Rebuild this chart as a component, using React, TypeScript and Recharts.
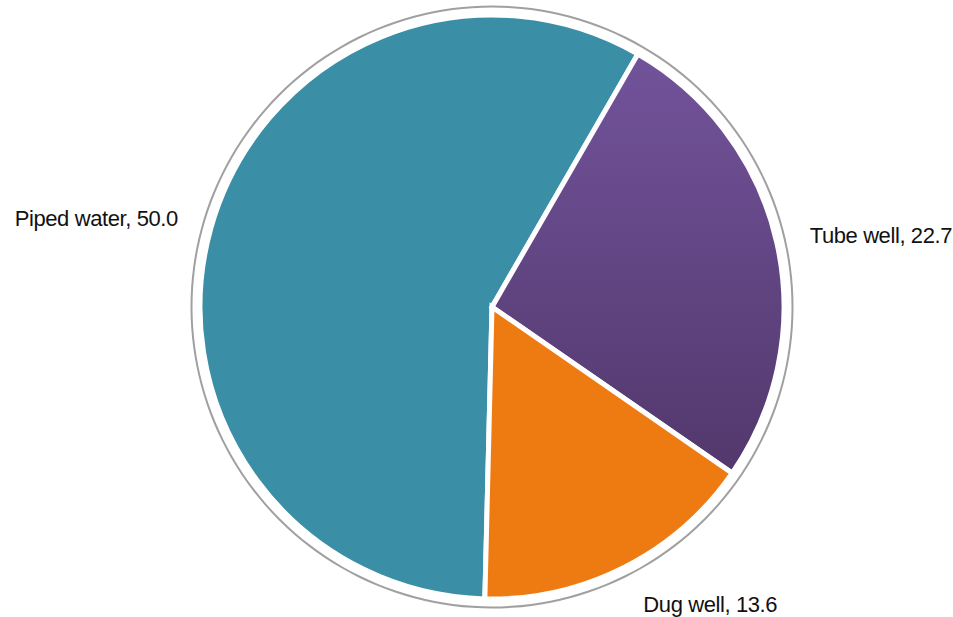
import React from "react";
import { PieChart, Pie, Cell } from "recharts";

const categories = ["Piped water", "Tube well", "Dug well"];
const values = [50.0, 22.7, 13.6];
const colors = ["#3A8EA6", "url(#purpleGrad)", "#EE7A12"];

const data = categories.map((name, i) => ({ name, value: values[i] }));
const ring = [{ name: "ring", value: 1 }];

const RADIAN = Math.PI / 180;

const renderLabel = (props: any) => {
  const { cx, cy, midAngle, outerRadius, name, value } = props;
  const s = Math.sin(-midAngle * RADIAN);
  const c = Math.cos(-midAngle * RADIAN);
  const r = outerRadius + 31 + 12 * Math.abs(s);
  const x = cx + r * c;
  const y = cy + r * s;
  return (
    <text
      x={x}
      y={y}
      textAnchor={c >= 0 ? "start" : "end"}
      dominantBaseline="central"
      fill="#111"
      fontSize={22}
      letterSpacing={-0.4}
      fontFamily="'Liberation Sans', Arial, sans-serif"
    >
      {`${name}, ${Number(value).toFixed(1)}`}
    </text>
  );
};

export default function App() {
  return (
    <div style={{ position: "absolute", left: 0, top: 0, width: 953, height: 617, background: "#fff" }}>
      <PieChart width={953} height={617} margin={{ top: 0, right: 0, bottom: 0, left: 0 }}>
        <defs>
          <linearGradient id="purpleGrad" x1="0" y1="0" x2="0" y2="1">
            <stop offset="0%" stopColor="#72539B" />
            <stop offset="100%" stopColor="#52386C" />
          </linearGradient>
        </defs>
        <Pie
          data={ring}
          dataKey="value"
          cx={492}
          cy={307}
          innerRadius={299.5}
          outerRadius={301.5}
          fill="#a0a0a0"
          stroke="none"
          isAnimationActive={false}
          label={false}
        />
        <Pie
          data={data}
          dataKey="value"
          nameKey="name"
          cx={492}
          cy={307}
          outerRadius={292}
          innerRadius={0}
          startAngle={268.6}
          endAngle={-91.4}
          stroke="#ffffff"
          strokeWidth={5}
          isAnimationActive={false}
          label={renderLabel}
          labelLine={false}
        >
          {data.map((d, i) => (
            <Cell key={d.name} fill={colors[i]} />
          ))}
        </Pie>
      </PieChart>
    </div>
  );
}
